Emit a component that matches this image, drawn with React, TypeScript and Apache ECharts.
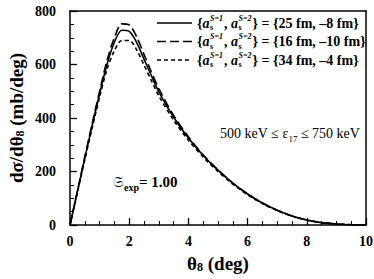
import React, { useEffect, useRef } from "react";
import * as echarts from "echarts";

const FONT = "'Liberation Serif', 'Times New Roman', serif";

const xs = [0, 0.25, 0.5, 0.75, 1, 1.25, 1.5, 1.75, 2, 2.25, 2.5, 2.75, 3, 3.5, 4, 4.5, 5, 5.5, 6, 6.5, 7, 7.5, 8, 8.5, 9, 9.5, 10];
const solidVals = [0, 125, 250, 372, 490, 600, 683, 728, 724, 683, 620, 558, 498, 403, 325, 260, 205, 157, 116, 82, 55, 34, 19, 9, 4, 1, 0];
const longDashVals = [0, 127, 255, 380, 500, 615, 700, 752, 748, 704, 638, 572, 510, 410, 330, 262, 206, 157, 116, 82, 55, 34, 19, 9, 4, 1, 0];
const shortDashVals = [0, 122, 244, 364, 478, 582, 652, 690, 690, 655, 598, 540, 483, 392, 317, 254, 200, 153, 113, 80, 54, 33, 18, 9, 4, 1, 0];

const legendSup1 = ["S=1", "S=1", "S=1"];
const legendSup2 = ["S=2", "S=2", "S=2"];
const legendValues = ["{25 fm, \u20138 fm}", "{16 fm, \u201310 fm}", "{34 fm, \u20134 fm}"];
const legendDash: (number[] | null)[] = [null, [9, 4], [4, 3]];

let ctx: CanvasRenderingContext2D | null = null;
function measure(text: string, font: string): number {
  if (!ctx) ctx = document.createElement("canvas").getContext("2d");
  if (!ctx) return text.length * 7;
  ctx.font = font;
  return ctx.measureText(text).width;
}

function txt(x: number, y: number, text: string, font: string) {
  return {
    type: "text",
    x,
    y,
    silent: true,
    style: { text, font, fill: "#000", textAlign: "left", textVerticalAlign: "middle", align: "left", verticalAlign: "middle" },
  };
}

function legendRow(i: number, yc: number) {
  const els: any[] = [];
  const b14 = `bold 14px ${FONT}`;
  const bi14 = `italic bold 14px ${FONT}`;
  const sup = `italic bold 8px ${FONT}`;
  const sub = `bold 8px ${FONT}`;
  let x = 197;
  const put = (t: string, f: string) => {
    els.push(txt(x, yc, t, f));
    x += measure(t, f);
  };
  const stack = (s: string) => {
    els.push(txt(x + 0.5, yc - 5, s, sup));
    els.push(txt(x + 0.5, yc + 4.5, "s", sub));
    x += Math.max(measure(s, sup), measure("s", sub)) + 1.5;
  };
  put("{", b14);
  put("a", bi14);
  stack(legendSup1[i]);
  put(", ", b14);
  put("a", bi14);
  stack(legendSup2[i]);
  put("} = " + legendValues[i], b14);
  const dash = legendDash[i];
  els.push({
    type: "line",
    silent: true,
    shape: { x1: 157, y1: yc, x2: 192, y2: yc },
    style: { stroke: "#000", lineWidth: 1.5, lineDash: dash || undefined },
  });
  return els;
}

export default function App() {
  const ref = useRef<HTMLDivElement>(null);
  useEffect(() => {
    if (!ref.current) return;
    const chart = echarts.init(ref.current, undefined, { renderer: "svg" });
    const mk = (vals: number[]) => xs.map((x, i) => [x, vals[i]]);
    const lineSeries = (name: string, vals: number[], dash: any) => ({
      name,
      type: "line",
      data: mk(vals),
      showSymbol: false,
      symbol: "none",
      smooth: 0.3,
      lineStyle: { color: "#000", width: 1.6, type: dash },
      z: 3,
    });
    const rows = [23, 41.5, 60];
    const graphics: any[] = [];
    rows.forEach((y, i) => graphics.push(...legendRow(i, y)));
    graphics.push({
      type: "text",
      x: 220,
      y: 133,
      silent: true,
      style: {
        text: "{n|500 keV \u2264 }{n|\u03b5}{s|17}{n| \u2264 750 keV}",
        fill: "#000",
        textVerticalAlign: "middle",
        verticalAlign: "middle",
        rich: {
          n: { fontFamily: FONT, fontSize: 14, lineHeight: 20, fill: "#000" },
          s: { fontFamily: FONT, fontSize: 9, lineHeight: 10, verticalAlign: "bottom", fill: "#000" },
        },
      },
    });
    graphics.push({
      type: "text",
      x: 113,
      y: 182,
      silent: true,
      style: {
        text: "{f|\ud835\udd16}{s|exp}{b|= 1.00}",
        fill: "#000",
        textVerticalAlign: "middle",
        verticalAlign: "middle",
        rich: {
          f: { fontFamily: "'DejaVu Serif', 'DejaVu Sans', serif", fontSize: 15, lineHeight: 20, fill: "#000" },
          s: { fontFamily: FONT, fontWeight: "bold", fontSize: 10, lineHeight: 10, verticalAlign: "bottom", fill: "#000" },
          b: { fontFamily: FONT, fontWeight: "bold", fontSize: 15, lineHeight: 20, fill: "#000" },
        },
      },
    });

    const nameRich = {
      b: { fontFamily: FONT, fontWeight: "bold", fontSize: 19, lineHeight: 20, color: "#000" },
      s: { fontFamily: FONT, fontWeight: "bold", fontSize: 12, lineHeight: 12, verticalAlign: "bottom", color: "#000" },
    };

    const labelStyle = { color: "#000", fontFamily: FONT, fontWeight: "bold", fontSize: 14 };
    const hiddenAxis = {
      axisLine: { show: false },
      axisTick: { show: false },
      minorTick: { show: false },
      axisLabel: { show: false },
      splitLine: { show: false },
    };
    const frameAxis = {
      axisLine: { show: true, onZero: false, lineStyle: { color: "#000", width: 1.5 } },
      axisTick: { show: false },
      minorTick: { show: false },
      axisLabel: { show: false },
      splitLine: { show: false },
    };

    chart.setOption({
      animation: false,
      backgroundColor: "#fff",
      grid: { left: 70, right: 8, top: 11, bottom: 54, containLabel: false, outerBoundsMode: "none" },
      xAxis: [
        {
          type: "value",
          min: 0,
          max: 10,
          interval: 2,
          axisLine: { show: true, lineStyle: { color: "#000", width: 1.5 } },
          axisTick: { show: true, inside: true, length: 7, lineStyle: { color: "#000", width: 1.3 } },
          minorTick: { show: true, splitNumber: 4, length: 4, lineStyle: { color: "#000", width: 1 } },
          splitLine: { show: false },
          axisLabel: { ...labelStyle, margin: 9 },
        },
        {
          type: "value",
          position: "bottom",
          min: 0,
          max: 10,
          interval: 2,
          name: "{b|\u03b8}{s|8}{b| (deg)}",
          nameLocation: "middle",
          nameGap: 28,
          nameTextStyle: { rich: nameRich },
          ...hiddenAxis,
        },
        { type: "value", position: "top", min: 0, max: 10, interval: 2, ...frameAxis },
      ],
      yAxis: [
        {
          type: "value",
          min: 0,
          max: 800,
          interval: 200,
          axisLine: { show: true, lineStyle: { color: "#000", width: 1.5 } },
          axisTick: { show: true, inside: true, length: 7, lineStyle: { color: "#000", width: 1.3 } },
          minorTick: { show: true, splitNumber: 4, length: 4, lineStyle: { color: "#000", width: 1 } },
          splitLine: { show: false },
          axisLabel: { ...labelStyle, margin: 14 },
        },
        {
          type: "value",
          position: "left",
          min: 0,
          max: 800,
          interval: 200,
          name: "{b|d\u03c3/d\u03b8}{s|8}{b| (mb/deg)}",
          nameLocation: "middle",
          nameGap: 44,
          nameTextStyle: { rich: nameRich },
          ...hiddenAxis,
        },
        { type: "value", position: "right", min: 0, max: 800, interval: 200, ...frameAxis },
      ],
      series: [
        lineSeries("25", solidVals, "solid"),
        lineSeries("16", longDashVals, [9, 4]),
        lineSeries("34", shortDashVals, [4, 3]),
      ],
      graphic: graphics,
    });
    return () => chart.dispose();
  }, []);
  return <div ref={ref} style={{ position: "absolute", left: 0, top: 0, width: 374, height: 279 }} />;
}
